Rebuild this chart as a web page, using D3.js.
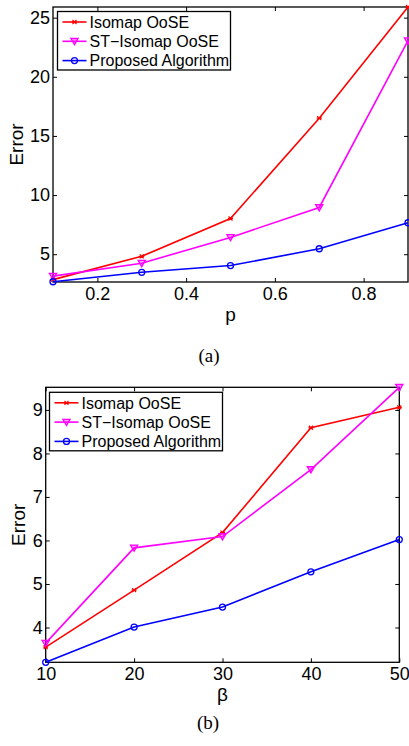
<!DOCTYPE html>
<html>
<head>
<meta charset="utf-8">
<script src="https://cdn.jsdelivr.net/npm/d3@7"></script>
<style>
  body { margin: 0; background: #fff; }
  text { font-family: "Liberation Sans", Arial, sans-serif; fill: #000; }
</style>
</head>
<body>
<div id="chart"></div>
<script>
// panel (a): error vs p
const pValues = [0.1, 0.3, 0.5, 0.7, 0.9];
const isomapA = [2.85, 4.82, 8.02, 16.5, 25.9];
const stIsomapA = [3.15, 4.24, 6.42, 8.95, 23.05];
const proposedA = [2.67, 3.47, 4.04, 5.46, 7.66];
const xTicksA = [0.2, 0.4, 0.6, 0.8];
const yTicksA = [5, 10, 15, 20, 25];

// panel (b): error vs beta
const betaValues = [10, 20, 30, 40, 50];
const isomapB = [3.55, 4.86, 6.18, 8.59, 9.06];
const stIsomapB = [3.64, 5.83, 6.09, 7.63, 9.52];
const proposedB = [3.2, 4.01, 4.47, 5.28, 6.02];
const xTicksB = [10, 20, 30, 40, 50];
const yTicksB = [4, 5, 6, 7, 8, 9];

const seriesNames = ['Isomap OoSE', 'ST\u2212Isomap OoSE', 'Proposed Algorithm'];
const colors = ['#ff0000', '#ff00ff', '#0000ff'];
const markers = ['x', 'tri', 'circle'];

const width = 409, height = 746;

const svg = d3.select('#chart').append('svg')
  .attr('width', width)
  .attr('height', height);

function drawMarker(g, type, color, cx, cy) {
  if (type === 'x') {
    g.append('path')
      .attr('d', `M${cx - 2},${cy - 2}L${cx + 2},${cy + 2}M${cx - 2},${cy + 2}L${cx + 2},${cy - 2}M${cx - 2.5},${cy}L${cx + 2.5},${cy}`)
      .attr('stroke', color).attr('stroke-width', 1.2).attr('fill', 'none');
  } else if (type === 'tri') {
    g.append('path')
      .attr('d', `M${cx - 3.6},${cy - 2.8}L${cx + 3.6},${cy - 2.8}L${cx},${cy + 3.4}Z`)
      .attr('stroke', color).attr('stroke-width', 1.3).attr('fill', color).attr('fill-opacity', 0.35);
  } else {
    g.append('circle')
      .attr('cx', cx).attr('cy', cy).attr('r', 3)
      .attr('stroke', color).attr('stroke-width', 1.3).attr('fill', 'none');
  }
}

function drawPanel(p) {
  const x = d3.scaleLinear().domain(p.xDomain).range([p.left, p.right]);
  const y = d3.scaleLinear().domain(p.yDomain).range([p.bottom, p.top]);
  const g = svg.append('g');

  // plot box
  g.append('rect')
    .attr('x', p.left).attr('y', p.top)
    .attr('width', p.right - p.left).attr('height', p.bottom - p.top)
    .attr('fill', 'none').attr('stroke', '#000').attr('stroke-width', 1.3);

  const styleAxis = (sel) => {
    sel.select('.domain').remove();
    sel.selectAll('line').attr('stroke', '#000');
    sel.selectAll('text').style('font-size', '18px')
      .style('font-family', '"Liberation Sans", Arial, sans-serif');
  };

  g.append('g')
    .attr('transform', `translate(0,${p.bottom})`)
    .call(d3.axisBottom(x).tickValues(p.xTicks).tickSize(-4).tickPadding(5).tickFormat(d3.format(p.xFmt)))
    .call(styleAxis);
  g.append('g')
    .attr('transform', `translate(0,${p.top})`)
    .call(d3.axisTop(x).tickValues(p.xTicks).tickSize(-4).tickFormat(''))
    .call(styleAxis);
  g.append('g')
    .attr('transform', `translate(${p.left},0)`)
    .call(d3.axisLeft(y).tickValues(p.yTicks).tickSize(-4).tickPadding(3).tickFormat(d3.format('d')))
    .call(styleAxis);
  g.append('g')
    .attr('transform', `translate(${p.right},0)`)
    .call(d3.axisRight(y).tickValues(p.yTicks).tickSize(-4).tickFormat(''))
    .call(styleAxis);

  // lines and markers
  const line = d3.line()
    .x((d, i) => x(p.xs[i]))
    .y((d) => y(d));

  p.series.forEach((vals, k) => {
    g.append('path')
      .attr('d', line(vals))
      .attr('fill', 'none')
      .attr('stroke', colors[k])
      .attr('stroke-width', 1.6);
    vals.forEach((v, i) => drawMarker(g, markers[k], colors[k], x(p.xs[i]), y(v)));
  });

  // axis labels
  g.append('text')
    .attr('transform', `translate(${p.yLabelX},${(p.top + p.bottom) / 2}) rotate(-90)`)
    .attr('text-anchor', 'middle')
    .attr('dy', '0.35em')
    .style('font-size', '19px')
    .text('Error');
  g.append('text')
    .attr('x', (p.left + p.right) / 2)
    .attr('y', p.xLabelY)
    .attr('text-anchor', 'middle')
    .attr('dy', '0.35em')
    .style('font-size', '19px')
    .text(p.xLabel);

  // legend
  const lg = g.append('g');
  lg.append('rect')
    .attr('x', p.legend.x).attr('y', p.legend.y)
    .attr('width', p.legend.w).attr('height', p.legend.h)
    .attr('fill', '#fff').attr('stroke', '#000').attr('stroke-width', 1.3);
  seriesNames.forEach((name, k) => {
    const ry = p.legend.y + 10.5 + k * 19.3;
    const x0 = p.legend.x + 5, x1 = p.legend.x + 29;
    lg.append('line')
      .attr('x1', x0).attr('x2', x1).attr('y1', ry).attr('y2', ry)
      .attr('stroke', colors[k]).attr('stroke-width', 1.6);
    drawMarker(lg, markers[k], colors[k], (x0 + x1) / 2, ry);
    lg.append('text')
      .attr('x', p.legend.x + 32)
      .attr('y', ry)
      .attr('dy', '0.36em')
      .style('font-size', '16px')
      .text(name);
  });

  // caption
  g.append('text')
    .attr('x', p.captionX)
    .attr('y', p.captionY)
    .attr('text-anchor', 'middle')
    .attr('dy', '0.35em')
    .style('font-family', '"Liberation Serif", "Times New Roman", serif')
    .style('font-size', '19px')
    .text(p.caption);
}

drawPanel({
  xs: pValues, series: [isomapA, stIsomapA, proposedA],
  xDomain: [0.1, 0.9], yDomain: [2.65, 25.9],
  xTicks: xTicksA, yTicks: yTicksA, xFmt: '.1f',
  left: 53, right: 408, top: 7, bottom: 282,
  yLabelX: 16, xLabelY: 314, xLabel: 'p',
  legend: { x: 57.5, y: 11.5, w: 173, h: 58.5 },
  captionX: 209, captionY: 355, caption: '(a)'
});

drawPanel({
  xs: betaValues, series: [isomapB, stIsomapB, proposedB],
  xDomain: [10, 50], yDomain: [3.2, 9.52],
  xTicks: xTicksB, yTicks: yTicksB, xFmt: 'd',
  left: 45.7, right: 399.3, top: 387.3, bottom: 662.3,
  yLabelX: 18, xLabelY: 694, xLabel: '\u03b2',
  legend: { x: 49.5, y: 392.3, w: 173, h: 58.5 },
  captionX: 208, captionY: 722, caption: '(b)'
});
</script>
</body>
</html>
